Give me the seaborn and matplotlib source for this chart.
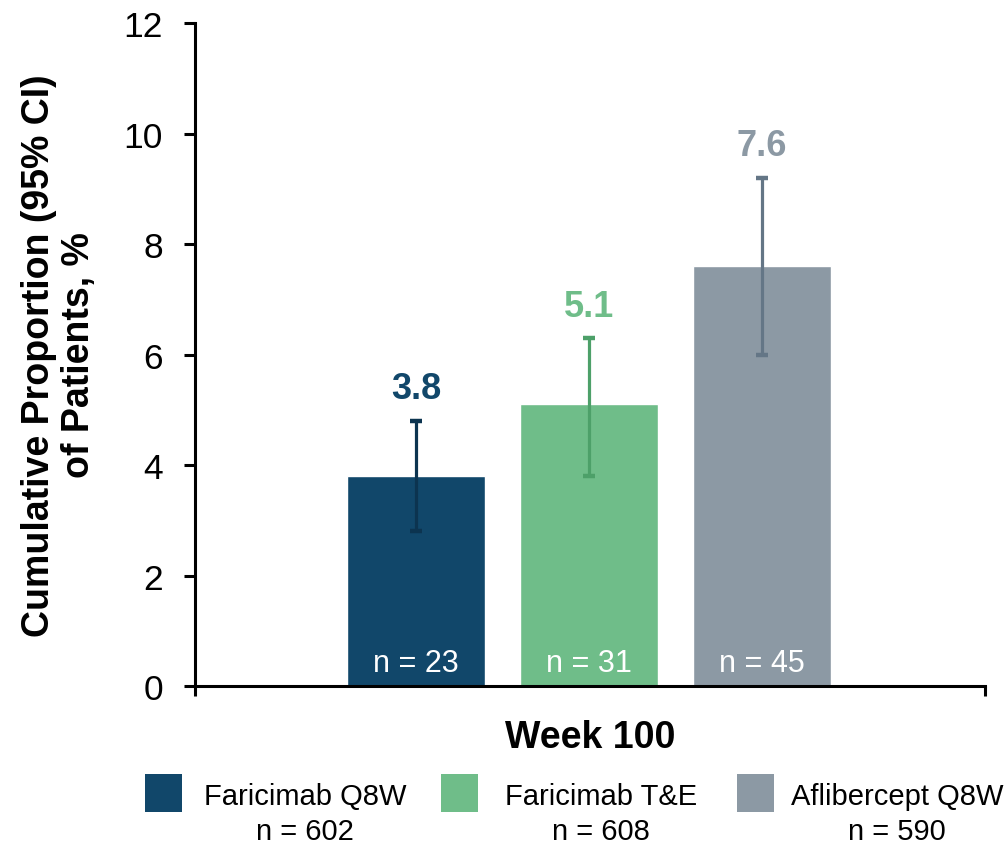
import matplotlib
matplotlib.use("Agg")
import matplotlib.pyplot as plt
from matplotlib.patches import Rectangle
import seaborn as sns
import pandas as pd

# Cumulative proportion of patients at week 100, with 95% CI
groups = ["Faricimab Q8W", "Faricimab T&E", "Aflibercept Q8W"]
proportions = [3.8, 5.1, 7.6]
ci_low = [2.8, 3.8, 6.0]
ci_high = [4.8, 6.3, 9.2]
events_n = [23, 31, 45]
arm_n = [602, 608, 590]

bar_colors = ["#11476A", "#6FBD89", "#8C99A4"]
err_colors = ["#0C3450", "#4DA069", "#647686"]

sns.set_theme(style="ticks")
plt.rcParams["font.family"] = ["Liberation Sans", "DejaVu Sans"]
plt.rcParams["text.color"] = "black"
plt.rcParams["axes.labelcolor"] = "black"

df = pd.DataFrame({"group": groups, "value": proportions})

fig = plt.figure(figsize=(10.07, 8.45), dpi=100)
ax = fig.add_axes([0.1936, 0.187, 0.7845, 0.7845])

sns.barplot(data=df, x="group", y="value", hue="group", palette=bar_colors,
            order=groups, hue_order=groups, width=0.8, errorbar=None,
            legend=False, saturation=1, ax=ax)

for i, (v, lo, hi) in enumerate(zip(proportions, ci_low, ci_high)):
    ax.errorbar(i, v, yerr=[[v - lo], [hi - v]], fmt="none", ecolor=err_colors[i],
                elinewidth=2.3, capsize=4.5, capthick=3.2, zorder=3)
    ax.annotate(f"{v:.1f}", (i, hi), xytext=(0, 23), textcoords="offset points",
                ha="center", va="center", fontsize=26, fontweight="bold",
                color=bar_colors[i])
    ax.annotate(f"n = {events_n[i]}", (i, 0), xytext=(0, 16.5),
                textcoords="offset points", ha="center", va="center",
                fontsize=22, color="white")

ax.set_ylim(0, 12)
ax.set_yticks(range(0, 13, 2))
x_lo, x_hi = -1.277, 3.289
ax.set_xlim(x_lo, x_hi)
ax.set_xticks([x_lo, x_hi])
ax.set_xticklabels(["", ""])

for side in ("top", "right"):
    ax.spines[side].set_visible(False)
for side in ("left", "bottom"):
    ax.spines[side].set_linewidth(2.2)
    ax.spines[side].set_color("black")

ax.tick_params(axis="y", direction="out", length=8, width=2.2, labelsize=25.5,
               pad=15, colors="black")
ax.tick_params(axis="x", direction="out", length=7, width=2.2, colors="black")

ax.set_xlabel("Week 100", fontsize=27, fontweight="bold", labelpad=13)
ax.set_ylabel("Cumulative Proportion (95% CI)\nof Patients, %", fontsize=27,
              fontweight="bold", linespacing=1.15)
ax.yaxis.set_label_coords(-0.124, 0.5)

# Legend row below the axis: colour swatch, arm name, and arm size
W, H = 1007, 845
for i, (g, n) in enumerate(zip(groups, arm_n)):
    left = 145 + i * 296
    fig.add_artist(Rectangle((left / W, (H - 813) / H), 37 / W, 38 / H,
                             transform=fig.transFigure, facecolor=bar_colors[i],
                             edgecolor="none"))
    cx = (left + 160) / W
    fig.text(cx, (H - 797) / H, g, ha="center", va="center", fontsize=21)
    fig.text(cx, (H - 832) / H, f"n = {n}", ha="center", va="center", fontsize=21)

fig.savefig("out.png", dpi=100)
